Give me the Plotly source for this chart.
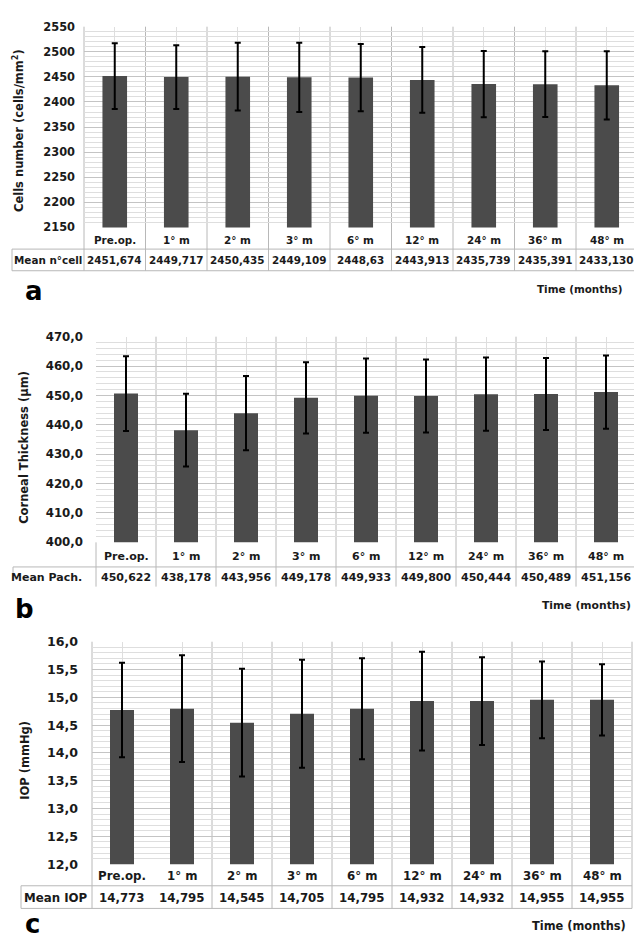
import plotly.graph_objects as go

# ---- data -------------------------------------------------------------
categories = ["Pre.op.", "1° m", "2° m", "3° m", "6° m", "12° m", "24° m", "36° m", "48° m"]

# table strings as printed; bar heights are parsed from them
cells_text = ["2451,674", "2449,717", "2450,435", "2449,109", "2448,63",
              "2443,913", "2435,739", "2435,391", "2433,130"]
cells_sd = [65.5, 63.5, 67.5, 69, 67, 65.5, 66, 65.5, 68]

pach_text = ["450,622", "438,178", "443,956", "449,178", "449,933",
             "449,800", "450,444", "450,489", "451,156"]
pach_sd = [12.75, 12.4, 12.65, 12.15, 12.6, 12.4, 12.5, 12.25, 12.45]

iop_text = ["14,773", "14,795", "14,545", "14,705", "14,795",
            "14,932", "14,932", "14,955", "14,955"]
iop_sd = [0.85, 0.96, 0.97, 0.97, 0.91, 0.89, 0.79, 0.69, 0.64]


def parse(vals):
    return [float(s.replace(",", ".")) for s in vals]


W, H = 634, 941
FONT = "DejaVu Sans"
TXT = "#1a1a1a"
BAR = "#4b4b4b"
GRID_MINOR = "#dedede"
GRID_MAJOR = "#c4c4c4"
BORDER = "#b8b8b8"


def fx(px):
    return px / W


def fy(py):
    return 1 - py / H


panels = [
    dict(name="a", text=cells_text, sd=cells_sd, left=84, right=634, colw=61.5,
         top=19, bottom=223, yr=[2150, 2550], major=50, minor=10, fmt="d",
         tick_size=11.4, tbl_size=10.4, lab_y=236, tbl_y=256,
         header="Mean n°cell", header_x=48,
         ytitle="Cells number (cells/mm<sup>2</sup>)", ytitle_x=18, ytitle_y=125,
         skip_bounds=[], line_top=19, line_bot=267, standoff=8),
    dict(name="b", text=pach_text, sd=pach_sd, left=96, right=634, colw=60,
         top=334, bottom=543, yr=[400, 470], major=10, minor=2, fmt=".1f",
         tick_size=11.8, tbl_size=11.0, lab_y=557, tbl_y=579,
         header="Mean Pach.", header_x=46,
         ytitle="Corneal Thickness (µm)", ytitle_x=24, ytitle_y=447,
         skip_bounds=[], line_top=334, line_bot=588, standoff=12),
    dict(name="c", text=iop_text, sd=iop_sd, left=92, right=632, colw=60,
         top=644, bottom=870, yr=[12, 16], major=0.5, minor=0.1, fmt=".1f",
         tick_size=12.6, tbl_size=11.8, lab_y=882, tbl_y=904,
         header="Mean IOP", header_x=56,
         ytitle="IOP (mmHg)", ytitle_x=25, ytitle_y=765,
         skip_bounds=[1], line_top=644, line_bot=915, standoff=13),
]

fig = go.Figure()
shapes = []
annotations = []

for i, p in enumerate(panels):
    sfx = "" if i == 0 else str(i + 1)
    xa, ya = "x" + sfx, "y" + sfx
    r0 = -0.5
    r1 = r0 + (p["right"] - p["left"]) / p["colw"]
    vals = parse(p["text"])

    fig.add_trace(go.Bar(
        x=categories, y=vals, xaxis=xa, yaxis=ya,
        marker=dict(color=BAR, line=dict(width=0)), width=0.4,
        error_y=dict(type="data", array=p["sd"], visible=True,
                     color="black", thickness=2, width=3),
        showlegend=False, hoverinfo="skip",
    ))

    fig.layout["xaxis" + sfx] = dict(
        domain=[fx(p["left"]), fx(p["right"])], anchor=ya,
        type="category", range=[r0, r1],
        showgrid=True, gridcolor=GRID_MINOR, gridwidth=1,
        showticklabels=False, ticks="", zeroline=False, showline=False,
        fixedrange=True,
    )
    fig.layout["yaxis" + sfx] = dict(
        domain=[fy(p["bottom"]), fy(p["top"])], anchor=xa,
        range=p["yr"], dtick=p["major"], tick0=p["yr"][0],
        tickformat=p["fmt"], ticks="", ticklabelstandoff=p["standoff"],
        showgrid=True, gridcolor=GRID_MAJOR, gridwidth=1,
        minor=dict(dtick=p["minor"], tick0=p["yr"][0], showgrid=True,
                   gridcolor=GRID_MINOR, gridwidth=1),
        zeroline=False, showline=False,
        tickfont=dict(family=FONT, size=p["tick_size"], color=TXT, weight="bold"),
        fixedrange=True,
    )

    def col_px(k, p=p, r0=r0, r1=r1):
        return p["left"] + (k - r0) / (r1 - r0) * (p["right"] - p["left"])

    # category boundary lines (plot, label row and table row)
    for k in range(len(categories) + 1):
        if k in p["skip_bounds"]:
            continue
        xb = col_px(k - 0.5)
        if xb > W + 1:
            continue
        top = p["line_top"]
        if p["name"] == "b" and k == 0:
            top = p["bottom"]
        shapes.append(dict(type="line", xref="paper", yref="paper",
                           x0=fx(xb), x1=fx(xb), y0=fy(top), y1=fy(p["line_bot"]),
                           line=dict(color=BORDER, width=1), layer="below"))

    # table outline
    if p["name"] == "a":
        for yy in (245, 267):
            shapes.append(dict(type="line", xref="paper", yref="paper",
                               x0=fx(12), x1=1, y0=fy(yy), y1=fy(yy),
                               line=dict(color=BORDER, width=1)))
        shapes.append(dict(type="line", xref="paper", yref="paper",
                           x0=fx(12), x1=fx(12), y0=fy(245), y1=fy(267),
                           line=dict(color=BORDER, width=1)))
    elif p["name"] == "b":
        shapes.append(dict(type="line", xref="paper", yref="paper",
                           x0=fx(13), x1=1, y0=fy(568), y1=fy(568),
                           line=dict(color=BORDER, width=1)))
        shapes.append(dict(type="line", xref="paper", yref="paper",
                           x0=fx(13), x1=fx(13), y0=fy(568), y1=fy(580),
                           line=dict(color=BORDER, width=1)))
    else:
        for yy in (892, 915):
            shapes.append(dict(type="line", xref="paper", yref="paper",
                               x0=fx(21), x1=fx(632), y0=fy(yy), y1=fy(yy),
                               line=dict(color=BORDER, width=1)))
        shapes.append(dict(type="line", xref="paper", yref="paper",
                           x0=fx(21), x1=fx(21), y0=fy(892), y1=fy(915),
                           line=dict(color=BORDER, width=1)))

    # category labels and table values
    for cat, txt in zip(categories, p["text"]):
        annotations.append(dict(x=cat, xref=xa, y=fy(p["lab_y"]), yref="paper",
                                text=cat, showarrow=False, xanchor="center",
                                yanchor="middle",
                                font=dict(family=FONT, size=p["tbl_size"],
                                          color=TXT, weight="bold")))
        annotations.append(dict(x=cat, xref=xa, y=fy(p["tbl_y"]), yref="paper",
                                text=txt, showarrow=False, xanchor="center",
                                yanchor="middle",
                                font=dict(family=FONT, size=p["tbl_size"],
                                          color=TXT, weight="bold")))
    annotations.append(dict(x=fx(p["header_x"]), xref="paper", y=fy(p["tbl_y"]),
                            yref="paper", text=p["header"], showarrow=False,
                            xanchor="center", yanchor="middle",
                            font=dict(family=FONT, size=p["tbl_size"],
                                      color=TXT, weight="bold")))
    annotations.append(dict(x=fx(p["ytitle_x"]), xref="paper", y=fy(p["ytitle_y"]),
                            yref="paper", text=p["ytitle"], showarrow=False,
                            textangle=-90, xanchor="center", yanchor="middle",
                            font=dict(family=FONT, size=11.5, color=TXT,
                                      weight="bold")))

# axis-time captions
annotations += [
    dict(x=fx(625), y=fy(286), xref="paper", yref="paper", text="Time (months)",
         showarrow=False, xanchor="right", yanchor="middle",
         font=dict(family=FONT, size=10.4, color=TXT, weight="bold")),
    dict(x=fx(633), y=fy(607), xref="paper", yref="paper", text="Time (months)",
         showarrow=False, xanchor="right", yanchor="middle",
         font=dict(family=FONT, size=10.8, color=TXT, weight="bold")),
    dict(x=fx(628), y=fy(933), xref="paper", yref="paper", text="Time (months)",
         showarrow=False, xanchor="right", yanchor="middle",
         font=dict(family=FONT, size=11.4, color=TXT, weight="bold")),
]

# panel letters
for letter, x, y in (("a", 34, 288), ("b", 24, 611), ("c", 32, 931)):
    annotations.append(dict(x=fx(x), y=fy(y), xref="paper", yref="paper",
                            text=letter, showarrow=False, xanchor="center",
                            yanchor="middle",
                            font=dict(family=FONT, size=26, color="black",
                                      weight="bold")))

fig.update_layout(
    width=W, height=H, margin=dict(l=0, r=0, t=0, b=0),
    paper_bgcolor="white", plot_bgcolor="white",
    separators=", ", bargap=0.6,
    shapes=shapes, annotations=annotations,
)

fig.write_html("out.html", config=dict(displayModeBar=False))
